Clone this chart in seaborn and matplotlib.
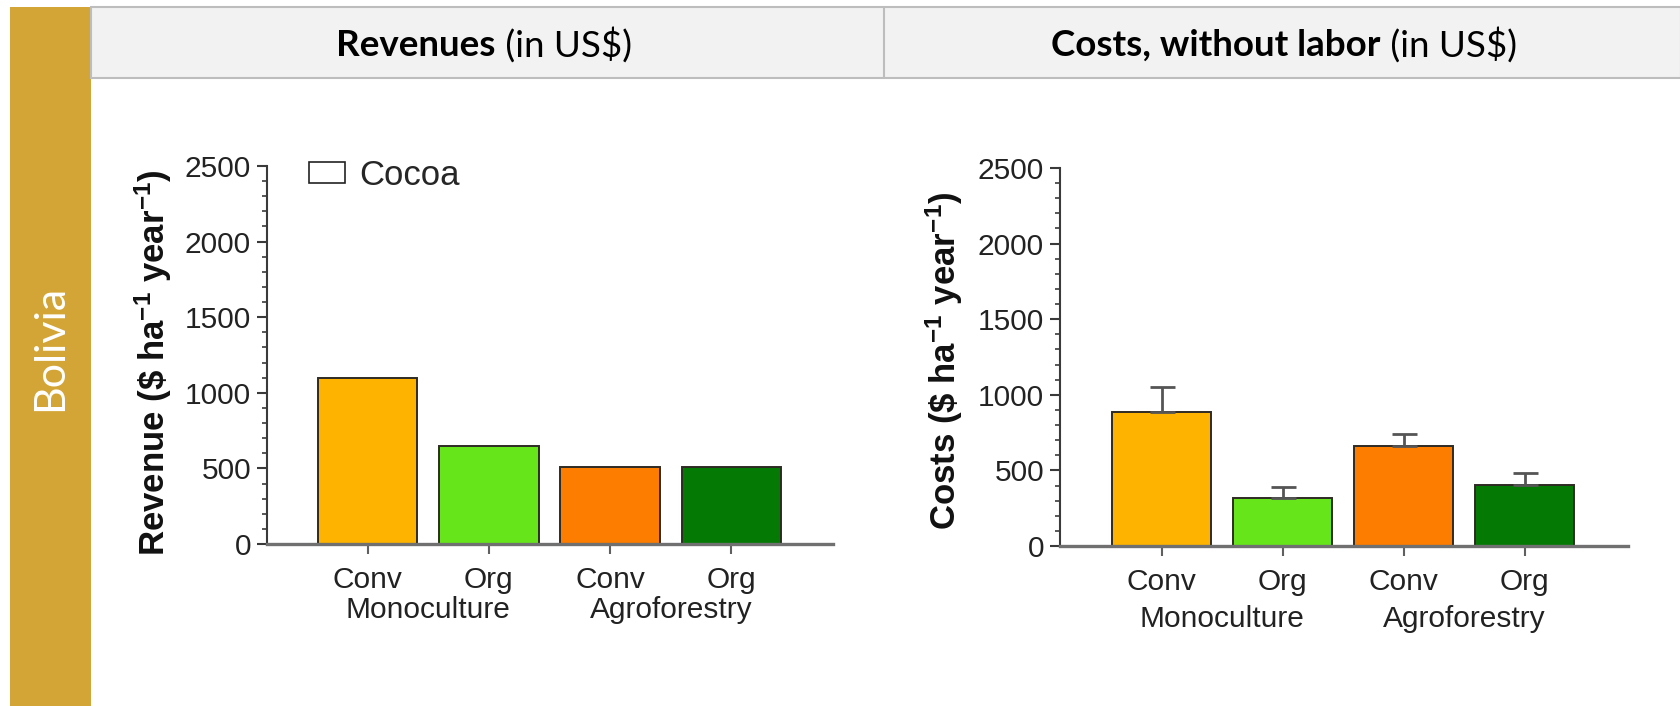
import numpy as np
import pandas as pd
import matplotlib
matplotlib.use("Agg")
import matplotlib.pyplot as plt
import matplotlib.transforms as mtransforms
from matplotlib.patches import Rectangle, Patch
from matplotlib.lines import Line2D
from matplotlib.ticker import MultipleLocator
import seaborn as sns

# ---- data -------------------------------------------------------------
bar_keys = ["Conv Monoculture", "Org Monoculture", "Conv Agroforestry", "Org Agroforestry"]
systems = ["Conv", "Org", "Conv", "Org"]
groups = ["Monoculture", "Agroforestry"]
group_centers = [0.5, 2.5]

revenue = [1100, 647, 510, 510]
costs = [885, 315, 660, 403]
costs_err = [166, 75, 78, 82]

bar_colors = ["#FDB300", "#66E61A", "#FD7D00", "#047A04"]
y_ticks = [0, 500, 1000, 1500, 2000, 2500]

country = "Bolivia"
legend_label = "Cocoa"

# ---- style ------------------------------------------------------------
sns.set_style("ticks")
plt.rcParams["font.family"] = ["Liberation Sans", "DejaVu Sans"]
plt.rcParams["mathtext.default"] = "regular"

W, H = 1681, 706
fig = plt.figure(figsize=(W / 100, H / 100), dpi=100)
fig.patch.set_facecolor("white")

TICK_SIZE = 21.5


def rect(x0, x1, ytop, ybot):
    return [x0 / W, 1 - ybot / H, (x1 - x0) / W, (ybot - ytop) / H]


# ---- side banner and header band ---------------------------------------
fig.add_artist(Rectangle((10 / W, 0), 81 / W, 1 - 7 / H, transform=fig.transFigure,
                         facecolor="#D3A536", edgecolor="none", zorder=0))
fig.text(50 / W, 1 - 348 / H, country, rotation=90, color="white", fontsize=31,
         family=["Lato", "DejaVu Sans"], ha="center", va="center")

fig.add_artist(Rectangle((91 / W, 1 - 78 / H), (W - 91) / W, 71 / H, transform=fig.transFigure,
                         facecolor="#F2F2F2", edgecolor="#BDBDBD", linewidth=1.5, zorder=0))
fig.add_artist(Line2D([884 / W, 884 / W], [1 - 78 / H, 1 - 7 / H], transform=fig.transFigure,
                      color="#BDBDBD", linewidth=1.5))

renderer = fig.canvas.get_renderer()


def header(cx, cy, bold_part, regular_part, size=26.5):
    kw = dict(family=["Lato", "DejaVu Sans"], fontsize=size, va="center", ha="left", color="black")
    t1 = fig.text(0, 1 - cy / H, bold_part, fontweight="bold", **kw)
    t2 = fig.text(0, 1 - cy / H, regular_part, **kw)
    w1 = t1.get_window_extent(renderer).width
    w2 = t2.get_window_extent(renderer).width
    x0 = cx - (w1 + w2) / 2
    t1.set_x(x0 / W)
    t2.set_x((x0 + w1) / W)


header(484, 45, "Revenues", " (in US$)")
header(1284, 45, "Costs, without labor", " (in US$)")


# ---- bar panels ---------------------------------------------------------
def panel(ax, values, ylabel, xlim, label_x, label_y, group_y, err=None):
    df = pd.DataFrame({"key": bar_keys, "value": values})
    sns.barplot(data=df, x="key", y="value", hue="key", order=bar_keys, hue_order=bar_keys,
                palette=bar_colors, saturation=1, width=0.82, edgecolor="#2E2A24",
                linewidth=1.4, errorbar=None, legend=False, ax=ax)
    if err is not None:
        ax.errorbar(np.arange(len(values)), values, yerr=[np.zeros(len(err)), err],
                    fmt="none", ecolor="#555555", elinewidth=2.0, capsize=9, capthick=2.0,
                    zorder=3)
    ax.set_xlim(*xlim)
    ax.set_ylim(0, 2500)
    ax.set_yticks(y_ticks)
    ax.yaxis.set_minor_locator(MultipleLocator(100))
    ax.set_xticks(range(len(systems)))
    ax.set_xticklabels(systems)
    ax.set_xlabel("")
    ax.set_ylabel(ylabel, fontsize=25, fontweight="bold", color="#111111")
    ax.yaxis.set_label_coords(label_x, label_y)

    sns.despine(ax=ax)
    ax.spines["left"].set_color("#3A3A3A")
    ax.spines["left"].set_linewidth(1.5)
    ax.spines["bottom"].set_color("#707070")
    ax.spines["bottom"].set_linewidth(2.4)

    ax.tick_params(axis="y", which="major", length=7.5, width=1.5, color="#3A3A3A",
                   labelsize=TICK_SIZE, labelcolor="#222222", pad=4)
    ax.tick_params(axis="y", which="minor", length=3.8, width=1.3, color="#4A4A4A")
    ax.tick_params(axis="x", which="major", length=7.5, width=1.5, color="#606060",
                   labelsize=TICK_SIZE, labelcolor="#222222", pad=8)
    ax.tick_params(axis="x", which="minor", length=0)

    trans = mtransforms.blended_transform_factory(ax.transData, ax.transAxes)
    for gx, g in zip(group_centers, groups):
        ax.text(gx, group_y, g, transform=trans, ha="center", va="center",
                fontsize=TICK_SIZE, color="#222222")


ax1 = fig.add_axes(rect(267, 833, 166, 544))
panel(ax1, revenue, r"Revenue (\$ ha$^{-1}$ year$^{-1}$)", (-0.829, 3.837),
      -0.165, 0.48, -0.175)
ax1.legend(handles=[Patch(facecolor="white", edgecolor="#222222", linewidth=1.2,
                          label=legend_label)],
           loc="center left", bbox_to_anchor=(0.074, 0.976), frameon=False,
           fontsize=25, handlelength=1.04, handleheight=0.55, handletextpad=0.4,
           borderpad=0, borderaxespad=0)

ax2 = fig.add_axes(rect(1060, 1628, 168, 546))
panel(ax2, costs, r"Costs (\$ ha$^{-1}$ year$^{-1}$)", (-0.839, 3.855),
      -0.168, 0.49, -0.193, err=costs_err)

fig.savefig("out.png", dpi=100, facecolor="white")
